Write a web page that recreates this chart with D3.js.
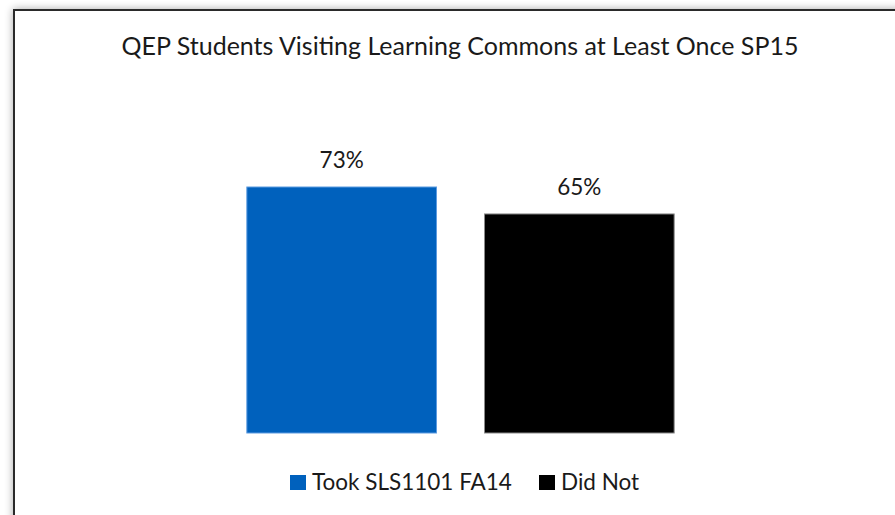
<!DOCTYPE html>
<html>
<head>
<meta charset="utf-8">
<script src="https://cdn.jsdelivr.net/npm/d3@7"></script>
<style>
  body { margin: 0; background: #fff; }
  svg text { font-family: Lato, "Open Sans", sans-serif; fill: #1a1a1a; }
</style>
</head>
<body>
<div class="canvas"></div>
<script>
// data
var categories = ['Took SLS1101 FA14', 'Did Not'];
var values = [0.73, 0.65];
var colors = ['#0061BD', '#000000'];
var outlines = ['#5d9be0', '#8a8a8a'];
var title = 'QEP Students Visiting Learning Commons at Least Once SP15';

var width = 895, height = 515;

var svg = d3.select('.canvas').append('svg')
  .attr('width', width)
  .attr('height', height);

// shadow behind the chart frame
var defs = svg.append('defs');
var f = defs.append('filter').attr('id', 'shadow')
  .attr('x', '-5%').attr('y', '-5%').attr('width', '110%').attr('height', '110%');
f.append('feGaussianBlur').attr('in', 'SourceAlpha').attr('stdDeviation', 4);
f.append('feOffset').attr('dx', 0).attr('dy', 0).attr('result', 'b');
f.append('feComponentTransfer').append('feFuncA').attr('type', 'linear').attr('slope', 0.35);
var m = f.append('feMerge');
m.append('feMergeNode');
m.append('feMergeNode').attr('in', 'SourceGraphic');

svg.append('rect')
  .attr('x', 14).attr('y', 10)
  .attr('width', width + 40).attr('height', height + 40)
  .attr('fill', '#fff')
  .attr('stroke', '#2b2b2b')
  .attr('stroke-width', 2)
  .attr('filter', 'url(#shadow)');

// title
svg.append('text')
  .attr('x', 460).attr('y', 55)
  .attr('text-anchor', 'middle')
  .style('font-size', '25px')
  .text(title);

// scales
var x = d3.scaleBand()
  .domain(categories)
  .range([128, 793])
  .paddingInner(0.202)
  .paddingOuter(0.5);

var y = d3.scaleLinear()
  .domain([0, 0.73])
  .range([433, 187]);

var bars = svg.selectAll('rect.bar')
  .data(values)
  .enter()
  .append('rect')
  .classed('bar', true)
  .attr('x', (d, i) => x(categories[i]))
  .attr('y', d => y(d))
  .attr('width', x.bandwidth())
  .attr('height', d => y(0) - y(d))
  .attr('fill', (d, i) => colors[i])
  .attr('stroke', (d, i) => outlines[i])
  .attr('stroke-width', 1);

svg.selectAll('text.lbl')
  .data(values)
  .enter()
  .append('text')
  .classed('lbl', true)
  .attr('x', (d, i) => x(categories[i]) + x.bandwidth() / 2)
  .attr('y', d => y(d) - 19)
  .attr('text-anchor', 'middle')
  .style('font-size', '22.5px')
  .text(d => d3.format('.0%')(d));

// legend
var legendX = [290, 539];
var lg = svg.selectAll('g.legend')
  .data(categories)
  .enter()
  .append('g')
  .attr('transform', (d, i) => 'translate(' + legendX[i] + ',475)');

lg.append('rect')
  .attr('width', 16).attr('height', 15)
  .attr('fill', (d, i) => colors[i]);

lg.append('text')
  .attr('x', 22).attr('y', 15)
  .style('font-size', '22.5px')
  .text(d => d);
</script>
</body>
</html>
